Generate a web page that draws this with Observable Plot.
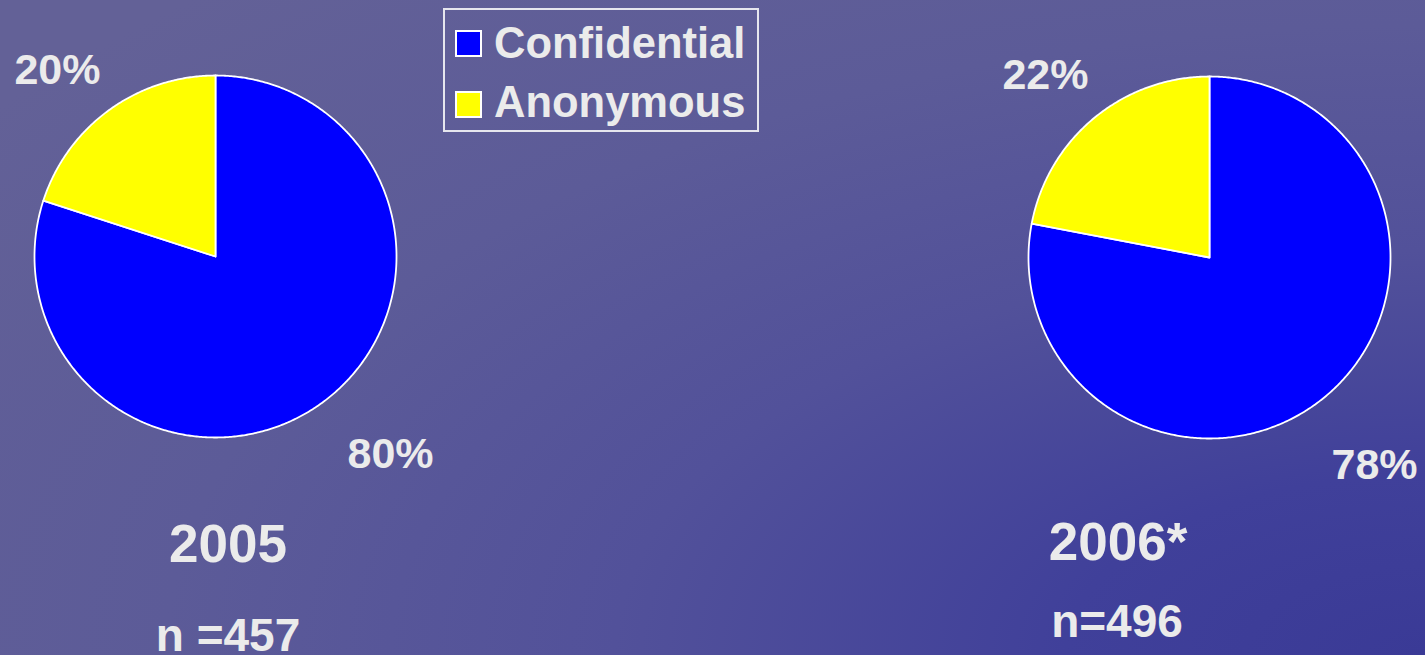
<!DOCTYPE html>
<html><head><meta charset="utf-8">
<script src="https://cdn.jsdelivr.net/npm/d3@7"></script>
<script src="https://cdn.jsdelivr.net/npm/@observablehq/plot@0.6"></script>
<style>
html,body{margin:0;padding:0;}
body{width:1425px;height:655px;overflow:hidden;font-family:"Liberation Sans",Arial,Helvetica,sans-serif;}
#stage{position:relative;width:1425px;height:655px;
  background: radial-gradient(ellipse 1800px 900px at 100% 100%, #3a3a96 0%, #40409a 20%, #52519a 45%, #5c5b98 70%, #636197 100%);}
#stage svg{position:absolute;left:0;top:0;}
</style></head><body><div id="stage"></div>
<script>
// ---- data ----
const years = ["2005", "2006*"];
const sampleLabels = ["n =457", "n=496"];
const categories = ["Confidential", "Anonymous"];
const confidentialPct = [80, 78];
const anonymousPct = [20, 22];
const sliceColors = ["#0000ff", "#ffff00"];

// ---- layout ----
const W = 1425, H = 655, R = 181;
const centers = [[215, 256], [1209, 257]];
// label anchor offsets from each pie centre: [Confidential, Anonymous]
const labelOffsets = [[[132, 181], [-115, -173]], [[122, 191], [-121, -169]]];
const textColor = "#ebebeb";
const font = '"Liberation Sans", Arial, Helvetica, sans-serif';

const pie = d3.pie().sort(null).value(d => d.value);
const slicePts = [], labels = [];
years.forEach((yr, i) => {
  const vals = [
    {cat: categories[0], value: confidentialPct[i]},
    {cat: categories[1], value: anonymousPct[i]}
  ];
  const [cx, cy] = centers[i];
  pie(vals).forEach((a, j) => {
    const cat = a.data.cat, id = yr + "-" + cat;
    slicePts.push({id, cat, x: cx, y: cy});
    const n = Math.max(2, Math.ceil((a.endAngle - a.startAngle) / (Math.PI / 360)));
    for (let k = 0; k <= n; k++) {
      const t = a.startAngle + (a.endAngle - a.startAngle) * k / n;
      slicePts.push({id, cat, x: cx + R * Math.sin(t), y: cy - R * Math.cos(t)});
    }
    slicePts.push({id, cat, x: cx, y: cy});
    const [ox, oy] = labelOffsets[i][j];
    labels.push({x: cx + ox, y: cy + oy, text: a.data.value + "%", upperLeft: ox < 0});
  });
});

const chart = Plot.plot({
  width: W, height: H,
  margin: 0,
  x: {domain: [0, W], axis: null},
  y: {domain: [0, H], reverse: true, axis: null},
  color: {domain: categories, range: sliceColors},
  style: {background: "transparent", overflow: "visible"},
  marks: [
    Plot.line(slicePts, {x: "x", y: "y", z: "id", fill: "cat", stroke: "white", strokeWidth: 1.8, curve: "linear"}),
    Plot.text(labels.filter(d => d.upperLeft), {x: "x", y: "y", text: "text", textAnchor: "end", lineAnchor: "bottom",
      fontSize: 43, fontWeight: "bold", fill: textColor, fontFamily: font}),
    Plot.text(labels.filter(d => !d.upperLeft), {x: "x", y: "y", text: "text", textAnchor: "start", lineAnchor: "top",
      fontSize: 43, fontWeight: "bold", fill: textColor, fontFamily: font})
  ]
});
document.getElementById("stage").appendChild(chart);

// ---- overlay: legend and titles ----
const ov = d3.select("#stage").append("svg").attr("width", W).attr("height", H)
  .style("font-family", font).style("font-weight", "bold").attr("fill", textColor);
const lg = ov.append("g");
lg.append("rect").attr("x", 444).attr("y", 9).attr("width", 314).attr("height", 122)
  .attr("fill", "none").attr("stroke", "#e6e6ee").attr("stroke-width", 2);
categories.forEach((c, i) => {
  lg.append("rect").attr("x", 456).attr("y", 31 + i * 61).attr("width", 25).attr("height", 25)
    .attr("fill", sliceColors[i]).attr("stroke", "white").attr("stroke-width", 2);
  lg.append("text").attr("x", 494).attr("y", 58 + i * 59).attr("font-size", 43.5).text(c);
});
const titlePos = [[228, 562, 228, 651], [1118, 560, 1117, 637]];
years.forEach((yr, i) => {
  const [tx, ty, nx, ny] = titlePos[i];
  ov.append("text").attr("x", tx).attr("y", ty).attr("text-anchor", "middle").attr("font-size", 53).text(yr);
  ov.append("text").attr("x", nx).attr("y", ny).attr("text-anchor", "middle").attr("font-size", 46).text(sampleLabels[i]);
});
</script></body></html>
